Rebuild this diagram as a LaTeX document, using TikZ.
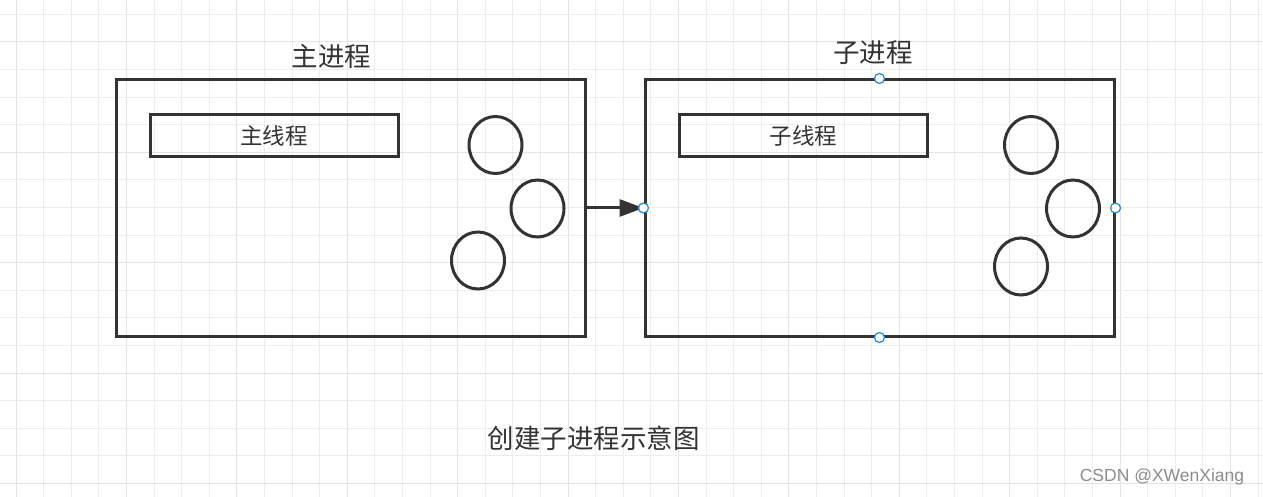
\documentclass[tikz,border=0pt]{standalone}
\usepackage{fontspec}
\newfontfamily\cjk{Noto Sans CJK SC}
\newfontfamily\wmfont{Liberation Sans}
\usetikzlibrary{arrows.meta,shapes.geometric}
\definecolor{ink}{HTML}{333333}
\definecolor{gridminor}{HTML}{EDEDED}
\definecolor{gridmajor}{HTML}{E3E3E3}
\definecolor{anchorblue}{HTML}{1E88E5}
\tikzset{
  procbox/.style={draw=ink, line width=3pt, rectangle, inner sep=0pt, minimum width=469pt, minimum height=256pt},
  threadbox/.style={draw=ink, line width=3pt, rectangle, inner sep=0pt, minimum width=248pt, minimum height=42pt, font=\cjk\fontsize{22.5}{25}\selectfont, text=ink},
  res/.style={draw=ink, line width=3pt, ellipse, inner sep=0pt, minimum width=53pt, minimum height=57pt},
  title/.style={font=\cjk\fontsize{26.5}{29}\selectfont, text=ink, inner sep=0pt},
  conn/.style={draw=anchorblue, fill=white, line width=1.2pt, circle, inner sep=0pt, minimum size=10pt},
  flow/.style={draw=ink, line width=3pt, -{Triangle[length=24pt,width=17pt]}}
}
\begin{document}
\begin{tikzpicture}[x=1pt,y=-1pt]
\useasboundingbox (0,0) rectangle (1263,497);
\fill[white] (0,0) rectangle (1263,497);
% grid
\foreach \i in {0,...,45} {
  \pgfmathsetmacro{\gx}{16+27.6*\i}
  \pgfmathtruncatemacro{\maj}{mod(\i,4)==0}
  \ifnum\maj=1
    \draw[gridmajor, line width=1pt] (\gx,0) -- (\gx,497);
  \else
    \draw[gridminor, line width=1pt] (\gx,0) -- (\gx,497);
  \fi
}
\foreach \j in {0,...,17} {
  \pgfmathsetmacro{\gy}{14.3+27.6*\j}
  \pgfmathtruncatemacro{\maj}{mod(\j+3,4)==0}
  \ifnum\maj=1
    \draw[gridmajor, line width=1pt] (0,\gy) -- (1263,\gy);
  \else
    \draw[gridminor, line width=1pt] (0,\gy) -- (1263,\gy);
  \fi
}
% boxes
\node[procbox] (main) at (350.5,208) {};
\node[procbox] (child) at (879.5,208) {};
\node[title] (maintitle) at (331.5,56) {主进程};
\node[title] (childtitle) at (873,53) {子进程};
\node[threadbox] (mainthread) at (274,136) {主线程};
\node[threadbox] (childthread) at (803.5,136) {子线程};
% resources
\node[res] (m1) at (495.5,145) {};
\node[res] (m2) at (537.5,208.5) {};
\node[res] (m3) at (478,260.5) {};
\node[res] (c1) at (1031,145) {};
\node[res] (c2) at (1073,208.5) {};
\node[res] (c3) at (1021,266.5) {};
% connector
\draw[flow] (main.east) -- (child.west);
% anchor markers
\node[conn] (pw) at (child.west) {};
\node[conn] (pe) at (child.east) {};
\node[conn] (pn) at (child.north) {};
\node[conn] (ps) at (child.south) {};
% caption
\node[font=\cjk\fontsize{26.5}{29}\selectfont, text=ink, inner sep=0pt] (caption) at (593.5,438) {创建子进程示意图};
\node[font=\wmfont\fontsize{17.5}{20}\selectfont, text=black!45, inner sep=0pt] (wm) at (1162,477) {CSDN @XWenXiang};
\end{tikzpicture}
\end{document}
